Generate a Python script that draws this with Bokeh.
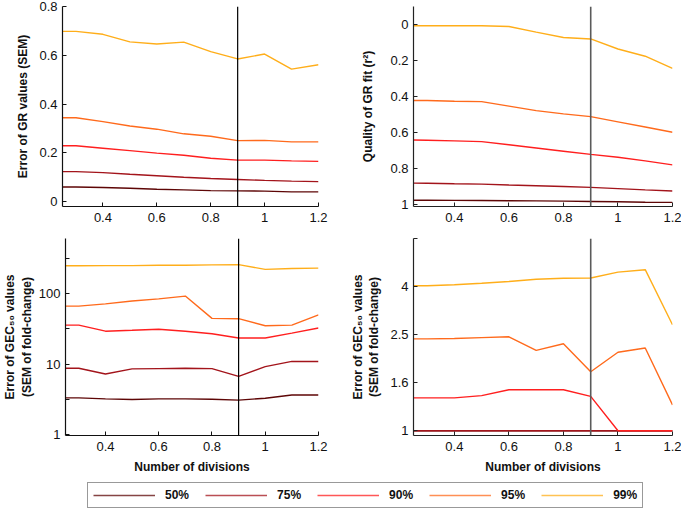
from bokeh.plotting import figure
from bokeh.layouts import column, row
from bokeh.models import Range1d, FixedTicker, Span, Legend, LegendItem
from bokeh.embed import file_html
from bokeh.resources import INLINE

# ---------------- data ----------------
divisions = [0.25, 0.3, 0.4, 0.5, 0.6, 0.7, 0.8, 0.9, 1.0, 1.1, 1.2]
chosen_divisions = 0.9
percentiles = ["50%", "75%", "90%", "95%", "99%"]

gr_sem_50 = [0.060, 0.060, 0.058, 0.055, 0.051, 0.048, 0.045, 0.044, 0.043, 0.040, 0.040]
gr_sem_75 = [0.123, 0.123, 0.119, 0.112, 0.106, 0.100, 0.095, 0.091, 0.087, 0.084, 0.082]
gr_sem_90 = [0.229, 0.229, 0.219, 0.209, 0.199, 0.190, 0.178, 0.170, 0.170, 0.167, 0.165]
gr_sem_95 = [0.344, 0.344, 0.328, 0.310, 0.297, 0.278, 0.268, 0.250, 0.251, 0.245, 0.245]
gr_sem_99 = [0.698, 0.698, 0.686, 0.655, 0.646, 0.654, 0.615, 0.585, 0.605, 0.543, 0.561]

r2_50 = [0.975, 0.975, 0.976, 0.977, 0.978, 0.979, 0.980, 0.982, 0.984, 0.986, 0.987]
r2_75 = [0.880, 0.881, 0.884, 0.886, 0.891, 0.895, 0.899, 0.904, 0.911, 0.918, 0.924]
r2_90 = [0.641, 0.642, 0.646, 0.650, 0.667, 0.685, 0.703, 0.721, 0.737, 0.757, 0.779]
r2_95 = [0.422, 0.422, 0.426, 0.428, 0.453, 0.478, 0.496, 0.511, 0.540, 0.569, 0.598]
r2_99 = [0.007, 0.007, 0.007, 0.007, 0.011, 0.042, 0.072, 0.080, 0.136, 0.176, 0.243]

gec_sem_50 = [3.30, 3.30, 3.19, 3.13, 3.19, 3.19, 3.16, 3.06, 3.26, 3.63, 3.63]
gec_sem_75 = [8.72, 8.72, 7.21, 8.53, 8.62, 8.72, 8.62, 6.69, 9.19, 10.9, 10.9]
gec_sem_90 = [35.9, 35.9, 29.4, 30.3, 31.3, 29.4, 27.0, 23.5, 23.5, 27.6, 32.6]
gec_sem_95 = [67.0, 67.0, 72.0, 79.0, 85.0, 93.0, 44.8, 44.3, 35.2, 35.9, 50.3]
gec_sem_99 = [251, 251, 253, 253, 256, 256, 259, 261, 223, 230, 233]

gec_fc_50 = [1.0] * 11
gec_fc_75 = [1.0] * 11
gec_fc_90 = [1.37, 1.37, 1.37, 1.40, 1.48, 1.48, 1.48, 1.39, 1.0, 1.0, 1.0]
gec_fc_95 = [2.41, 2.41, 2.42, 2.44, 2.46, 2.16, 2.30, 1.76, 2.12, 2.21, 1.28]
gec_fc_99 = [4.01, 4.01, 4.05, 4.11, 4.18, 4.27, 4.31, 4.32, 4.57, 4.68, 2.76]

x_ticks = [0.4, 0.6, 0.8, 1.0, 1.2]
gr_ticks = [0, 0.2, 0.4, 0.6, 0.8]
r2_ticks = [0, 0.2, 0.4, 0.6, 0.8, 1]
gec_ticks = [1, 3.16, 10, 31.6, 100, 316]
gec_tick_labels = {1: "1", 3.16: "", 10: "10", 31.6: "", 100: "100", 316: ""}
fc_ticks = [1, 1.585, 2.512, 3.981, 6.31]
fc_tick_labels = {1: "1", 1.585: "1.6", 2.512: "2.5", 3.981: "4", 6.31: ""}

colors = ["#5e0606", "#a3141b", "#ff1f1f", "#ff6a1c", "#ffae1a"]

FONT = "Liberation Sans"


def style(p, axis_color="#111111"):
    p.outline_line_color = None
    p.xgrid.visible = False
    p.ygrid.visible = False
    for ax in (p.xaxis, p.yaxis):
        ax.axis_line_color = axis_color
        ax.axis_line_width = 1.2
        ax.major_tick_line_color = axis_color
        ax.major_tick_in = 4
        ax.major_tick_out = 0
        ax.minor_tick_line_color = None
        ax.major_label_text_font = FONT
        ax.major_label_text_font_size = "13px"
        ax.major_label_text_color = "#111111"
        ax.axis_label_text_font = FONT
        ax.axis_label_text_font_size = "12px"
        ax.axis_label_text_font_style = "bold"
        ax.axis_label_text_color = "#111111"
    p.xaxis.ticker = FixedTicker(ticks=x_ticks)
    p.xaxis.major_label_overrides = {1: "1"}
    p.xaxis.major_label_standoff = 6


def make(width, height, bl, br, bt, bb, y_range, y_type="linear"):
    p = figure(width=width, height=height, x_range=Range1d(0.25, 1.2), y_range=y_range,
               y_axis_type=y_type, output_backend="svg", toolbar_location=None,
               min_border_left=bl, min_border_right=br, min_border_top=bt, min_border_bottom=bb)
    return p


LW, RW = 335, 346
TH, BH = 230, 246

# Top-left: SEM of GR values
p1 = make(LW, TH, 62, 17, 6, 24, Range1d(-0.02, 0.8))
style(p1)
for ys, c in zip([gr_sem_50, gr_sem_75, gr_sem_90, gr_sem_95, gr_sem_99], colors):
    p1.line(divisions, ys, line_color=c, line_width=1.4)
p1.add_layout(Span(location=chosen_divisions, dimension="height", line_color="#000000", line_width=1.2))
p1.yaxis.ticker = FixedTicker(ticks=gr_ticks)
p1.yaxis.major_label_overrides = {0: "0"}
p1.yaxis.axis_label = "Error of GR values (SEM)"
p1.yaxis.axis_label_standoff = 6

# Top-right: r^2
p2 = make(RW, TH, 78, 9, 6, 24, Range1d(1.01, -0.1))
style(p2, "#222222")
for ys, c in zip([r2_50, r2_75, r2_90, r2_95, r2_99], colors):
    p2.line(divisions, ys, line_color=c, line_width=1.4)
p2.add_layout(Span(location=chosen_divisions, dimension="height", line_color="#5a5a5a", line_width=1.6))
p2.yaxis.ticker = FixedTicker(ticks=r2_ticks)
p2.yaxis.major_label_overrides = {0: "0", 1: "1"}
p2.yaxis.axis_label = "Quality of GR fit (r\u00b2)"
p2.yaxis.axis_label_standoff = 12

# Bottom-left: SEM of GEC50 values (log)
p3 = make(LW, BH, 62, 17, 8, 40, Range1d(0.96, 615), "log")
style(p3)
for ys, c in zip([gec_sem_50, gec_sem_75, gec_sem_90, gec_sem_95, gec_sem_99], colors):
    p3.line(divisions, ys, line_color=c, line_width=1.4)
p3.add_layout(Span(location=chosen_divisions, dimension="height", line_color="#000000", line_width=1.2))
p3.yaxis.ticker = FixedTicker(ticks=gec_ticks)
p3.yaxis.major_label_overrides = gec_tick_labels
p3.yaxis.axis_label = "Error of GEC\u2085\u2080 values\n(SEM of fold-change)"
p3.yaxis.axis_label_standoff = 2
p3.xaxis.axis_label = "Number of divisions"
p3.xaxis.axis_label_standoff = 6

# Bottom-right: GEC50 fold-change (log)
p4 = make(RW, BH, 78, 9, 8, 40, Range1d(0.955, 6.31), "log")
style(p4, "#222222")
for ys, c in zip([gec_fc_50, gec_fc_75, gec_fc_90, gec_fc_95, gec_fc_99], colors):
    p4.line(divisions, ys, line_color=c, line_width=1.4)
p4.add_layout(Span(location=chosen_divisions, dimension="height", line_color="#5a5a5a", line_width=1.6))
p4.yaxis.ticker = FixedTicker(ticks=fc_ticks)
p4.yaxis.major_label_overrides = fc_tick_labels
p4.yaxis.axis_label = "Error of GEC\u2085\u2080 values\n(SEM of fold-change)"
p4.yaxis.axis_label_standoff = 6
p4.xaxis.axis_label = "Number of divisions"
p4.xaxis.axis_label_standoff = 6

# Legend strip (series drawn outside the visible range; only the legend shows)
pl = figure(width=LW + RW, height=512 - TH - BH, x_range=Range1d(0, 1), y_range=Range1d(50, 51),
            output_backend="svg", toolbar_location=None,
            min_border_left=0, min_border_right=0, min_border_top=0, min_border_bottom=0)
pl.axis.visible = False
pl.grid.visible = False
pl.outline_line_color = None
items = []
for lab, ys, c in zip(percentiles, [gr_sem_50, gr_sem_75, gr_sem_90, gr_sem_95, gr_sem_99], colors):
    r = pl.line(divisions, ys, line_color=c, line_width=1.4, line_alpha=0.75)
    items.append(LegendItem(label=lab, renderers=[r]))
leg = Legend(items=items, orientation="horizontal", location=(87, 4),
             glyph_width=62, glyph_height=12, label_standoff=10, spacing=16,
             padding=5, margin=0, label_text_font=FONT, label_text_font_size="12px",
             label_text_font_style="bold", label_text_color="#111111",
             border_line_color="#333333", border_line_width=1.2,
             background_fill_color="white", background_fill_alpha=1)
pl.add_layout(leg)

layout = column(row(p1, p2), row(p3, p4), pl)
open("out.html", "w").write(file_html(layout, INLINE))
